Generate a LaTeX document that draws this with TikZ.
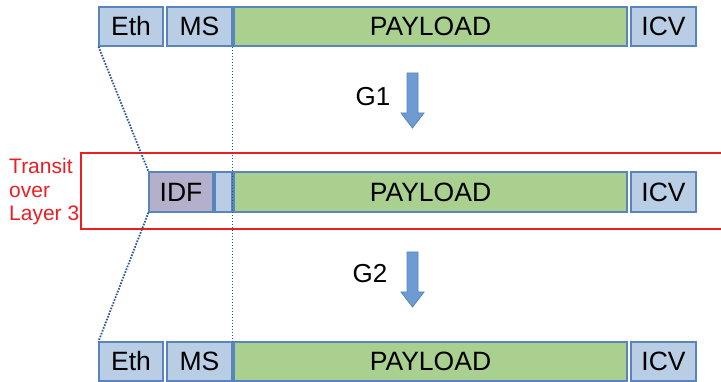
\documentclass[tikz,border=0pt]{standalone}
\usepackage{fontspec}
\setmainfont{Liberation Sans}
\definecolor{boxblue}{HTML}{B9CDE5}
\definecolor{edgeblue}{HTML}{5A84BE}
\definecolor{paygreen}{HTML}{A9D08E}
\definecolor{idfviolet}{HTML}{B4B0CC}
\definecolor{arrowblue}{HTML}{6F9BD3}
\definecolor{linkblue}{HTML}{2F5597}
\definecolor{transred}{HTML}{EB1E23}
\tikzset{
  field/.style={draw=edgeblue, line width=1.1pt, fill=boxblue, inner sep=0pt,
    font=\fontsize{26.5}{30}\selectfont, text=black},
  payload/.style={field, fill=paygreen},
  idfbox/.style={field, fill=idfviolet},
  link/.style={draw=linkblue, dash pattern=on 1.6pt off 1.4pt, line width=1.8pt},
  gen/.style={fill=arrowblue, draw=edgeblue, line width=0.8pt},
  glabel/.style={font=\fontsize{26}{30}\selectfont, inner sep=0pt},
  transit/.style={draw=transred, line width=1.4pt}
}
\begin{document}
\begin{tikzpicture}[x=1pt, y=-1pt]
\useasboundingbox (0,0) rectangle (721,382);

% top frame
\node[field, minimum width=64pt, minimum height=39pt] (eth1) at (131,26.5) {Eth};
\node[field, minimum width=65pt, minimum height=39pt] (ms1) at (199.5,26.5) {MS};
\node[payload, minimum width=393pt, minimum height=39pt] (pay1) at (430.5,26.5) {PAYLOAD};
\node[field, minimum width=65pt, minimum height=39pt] (icv1) at (663.5,26.5) {ICV};

% layer-3 transit frame
\draw[transit] (722,153) -- (81,153) -- (81,229) -- (722,229);
\node[text=transred, align=left, anchor=west, inner sep=0pt,
  font=\fontsize{21}{23.5}\selectfont] (transit) at (9,192) {Transit\\over\\Layer 3};
\node[idfbox, minimum width=64pt, minimum height=40pt] (idf) at (181,192) {IDF};
\node[field, minimum width=17pt, minimum height=40pt] (ms2) at (223.5,192) {};
\node[payload, minimum width=393pt, minimum height=40pt] (pay2) at (430.5,192) {PAYLOAD};
\node[field, minimum width=65pt, minimum height=40pt] (icv2) at (663.5,192) {ICV};

% bottom frame
\node[field, minimum width=64pt, minimum height=39pt] (eth3) at (131,361.5) {Eth};
\node[field, minimum width=65pt, minimum height=39pt] (ms3) at (199.5,361.5) {MS};
\node[payload, minimum width=393pt, minimum height=39pt] (pay3) at (430.5,361.5) {PAYLOAD};
\node[field, minimum width=65pt, minimum height=39pt] (icv3) at (663.5,361.5) {ICV};

% dotted correspondence lines
\draw[link] (eth1.south west) -- (idf.north west);
\draw[link] (idf.south west) -- (eth3.north west);
\draw[link] ([xshift=-1pt]pay1.south west) -- ([xshift=-1pt]pay3.north west);

% generation steps
\node[glabel] (g1) at (373,97) {G1};
\draw[gen] (407,73) -- (418,73) -- (418,113) -- (424,113) -- (412.5,128)
  -- (401,113) -- (407,113) -- cycle;
\node[glabel] (g2) at (370,274) {G2};
\draw[gen] (407,252) -- (418,252) -- (418,292) -- (424,292) -- (412.5,307)
  -- (401,292) -- (407,292) -- cycle;
\end{tikzpicture}
\end{document}
